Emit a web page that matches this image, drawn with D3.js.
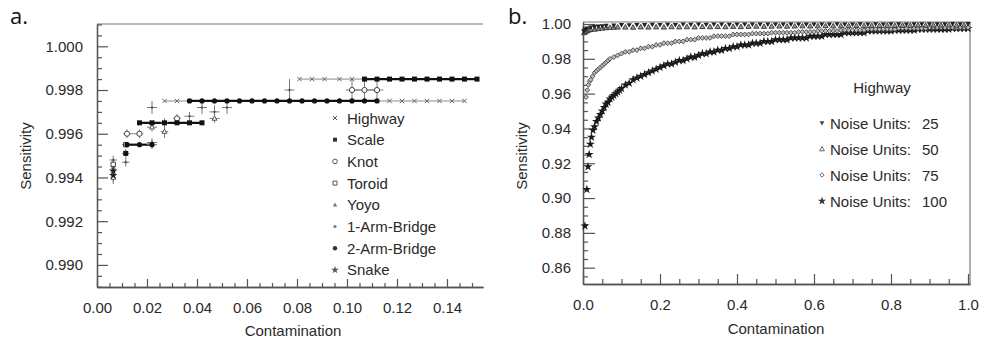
<!DOCTYPE html>
<html><head><meta charset="utf-8">
<script src="https://cdn.jsdelivr.net/npm/d3@7"></script>
<style>body{margin:0;background:#fff}svg{display:block}</style>
</head><body><svg id="c" width="981" height="340"></svg>
<script>
// ---------- data : panel a ----------
const aXTicks = [0.00, 0.02, 0.04, 0.06, 0.08, 0.10, 0.12, 0.14];
const aYTicks = [0.990, 0.992, 0.994, 0.996, 0.998, 1.000];
const aSeriesNames = ["Highway", "Scale", "Knot", "Toroid", "Yoyo", "1-Arm-Bridge", "2-Arm-Bridge", "Snake"];
// [contamination, sensitivity, x error, y error]
const highway = [
  [0.0065,0.9944,0.001,0.0002],
  [0.027,0.9975,0,0],[0.032,0.9975,0,0],[0.037,0.9975,0,0],
  [0.081,0.9985,0,0],[0.086,0.9985,0,0],[0.091,0.9985,0,0],[0.097,0.9985,0,0],[0.102,0.9985,0,0],[0.107,0.9985,0,0],
  [0.112,0.9975,0,0],[0.117,0.9975,0,0],[0.122,0.9975,0,0],[0.127,0.9975,0,0],[0.132,0.9975,0,0],[0.137,0.9975,0,0],[0.142,0.9975,0,0],[0.147,0.9975,0,0]
];
const scale = [
  [0.0115,0.9951,0.0015,0.0002],
  [0.017,0.9965,0,0],[0.022,0.9965,0,0],[0.027,0.9965,0.0015,0.0002],[0.032,0.9965,0,0],[0.037,0.9965,0,0],[0.042,0.9965,0,0],
  [0.107,0.9985,0,0],[0.112,0.9985,0,0],[0.117,0.9985,0,0],[0.122,0.9985,0,0],[0.127,0.9985,0,0],
  [0.132,0.9985,0,0],[0.137,0.9985,0,0],[0.142,0.9985,0,0],[0.147,0.9985,0,0],[0.152,0.9985,0,0]
];
const knot = [
  [0.012,0.9960,0.0015,0.0002],[0.017,0.9960,0.0015,0.0002],
  [0.032,0.9967,0.0015,0.0002],
  [0.102,0.9980,0.0025,0.0005],[0.107,0.9980,0.0025,0.0005],[0.112,0.9980,0.0025,0.0005]
];
const toroid = [
  [0.0065,0.9946,0.001,0.0002],[0.0115,0.9955,0.0015,0.0001]
];
const yoyo = [
  [0.0065,0.9940,0.001,0.0003],[0.022,0.9963,0.002,0.0002],[0.027,0.9961,0.0015,0.0003],[0.047,0.9967,0.002,0.0002]
];
const arm1 = [
  [0.0065,0.9948,0.0015,0.0002],[0.0115,0.9947,0.0015,0.0002],[0.022,0.9956,0.002,0.0002],
  [0.022,0.9972,0.002,0.0003],[0.037,0.9968,0.002,0.0002],[0.042,0.9972,0.002,0.0003],
  [0.047,0.9970,0.002,0.0003],[0.052,0.9972,0.002,0.0003],[0.077,0.9980,0.002,0.0005]
];
const arm2 = [
  [0.012,0.9955,0,0],[0.017,0.9955,0,0],[0.022,0.9955,0.002,0.0002],
  [0.037,0.9975,0,0],[0.042,0.9975,0,0],[0.047,0.9975,0,0],[0.052,0.9975,0,0],[0.057,0.9975,0,0],
  [0.062,0.9975,0,0],[0.067,0.9975,0,0],[0.072,0.9975,0,0],[0.077,0.9975,0,0],[0.082,0.9975,0,0],
  [0.087,0.9975,0,0],[0.092,0.9975,0,0],[0.097,0.9975,0,0],[0.102,0.9975,0,0],[0.107,0.9975,0,0],[0.112,0.9975,0,0]
];
const snake = [
  [0.0065,0.9941,0.001,0.0003],[0.0065,0.9943,0.0012,0.0002]
];

// ---------- data : panel b ----------
const bXTicks = [0.0, 0.2, 0.4, 0.6, 0.8, 1.0];
const bYTicks = [0.86, 0.88, 0.90, 0.92, 0.94, 0.96, 0.98, 1.00];
const bLegendTitle = "Highway";
const noiseUnits = ["25", "50", "75", "100"];
const noise25 = [
  [0.002,0.9958],[0.005,0.9968],[0.01,0.9975],[0.02,0.9980],[0.03,0.9984],[0.04,0.9986],[0.05,0.9988],[0.06,0.9990],[0.08,0.9992],[0.10,0.9994],
  [0.12,0.9993],[0.14,0.9995],[0.16,0.9994],[0.18,0.9996],[0.20,0.9995],[0.22,0.9996],[0.24,0.9995],[0.26,0.9997],[0.28,0.9996],[0.30,0.9997],
  [0.32,0.9996],[0.34,0.9997],[0.36,0.9997],[0.38,0.9996],[0.40,0.9997],[0.42,0.9998],[0.44,0.9997],[0.46,0.9997],[0.48,0.9998],[0.50,0.9997],
  [0.52,0.9998],[0.54,0.9997],[0.56,0.9998],[0.58,0.9998],[0.60,0.9997],[0.62,0.9998],[0.64,0.9998],[0.66,0.9999],[0.68,0.9998],[0.70,0.9998],
  [0.72,0.9999],[0.74,0.9998],[0.76,0.9999],[0.78,0.9998],[0.80,0.9999],[0.82,0.9999],[0.84,0.9998],[0.86,0.9999],[0.88,0.9999],[0.90,0.9999],
  [0.92,0.9999],[0.94,0.9999],[0.96,1.0000],[0.98,0.9999],[1.00,1.0000]
];
const noise50 = [
  [0.003,0.9950],[0.006,0.9955],[0.01,0.9960],[0.015,0.9965],[0.02,0.9968],[0.03,0.9970],[0.04,0.9973],[0.05,0.9976],[0.06,0.9978],[0.07,0.9980],
  [0.08,0.9981],[0.09,0.9982],[0.11,0.9982],[0.13,0.9981],[0.15,0.9983],[0.17,0.9982],[0.19,0.9983],[0.21,0.9982],[0.23,0.9984],[0.25,0.9983],
  [0.27,0.9984],[0.29,0.9983],[0.31,0.9985],[0.33,0.9984],[0.35,0.9985],[0.37,0.9984],[0.39,0.9986],[0.41,0.9985],[0.43,0.9986],[0.45,0.9987],
  [0.47,0.9986],[0.49,0.9987],[0.51,0.9988],[0.53,0.9987],[0.55,0.9988],[0.57,0.9989],[0.59,0.9988],[0.61,0.9989],[0.63,0.9990],[0.65,0.9989],
  [0.67,0.9990],[0.69,0.9990],[0.71,0.9991],[0.73,0.9990],[0.75,0.9991],[0.77,0.9991],[0.79,0.9992],[0.81,0.9991],[0.83,0.9992],[0.85,0.9992],
  [0.87,0.9993],[0.89,0.9992],[0.91,0.9993],[0.93,0.9993],[0.95,0.9994],[0.97,0.9993],[0.99,0.9994]
];
const noise75 = [
  [0.008,0.958],[0.011,0.962],[0.014,0.965],[0.017,0.967],[0.020,0.968],[0.025,0.970],[0.030,0.972],[0.035,0.973],[0.040,0.974],[0.045,0.975],
  [0.050,0.976],[0.055,0.977],[0.060,0.978],[0.065,0.979],[0.070,0.980],[0.080,0.981],[0.090,0.982],[0.10,0.983],[0.11,0.984],[0.12,0.984],
  [0.13,0.985],[0.14,0.985],[0.15,0.986],[0.16,0.986],[0.17,0.987],[0.18,0.987],[0.19,0.988],[0.20,0.988],[0.21,0.989],[0.22,0.989],
  [0.23,0.989],[0.24,0.990],[0.25,0.990],[0.26,0.990],[0.27,0.991],[0.28,0.991],[0.29,0.991],[0.30,0.992],[0.31,0.992],[0.32,0.992],
  [0.33,0.992],[0.34,0.993],[0.35,0.993],[0.36,0.993],[0.37,0.993],[0.38,0.993],[0.39,0.994],[0.40,0.994],[0.41,0.994],[0.42,0.994],
  [0.43,0.994],[0.44,0.9945],[0.45,0.9945],[0.46,0.9945],[0.47,0.9945],[0.48,0.9945],[0.49,0.995],[0.50,0.995],[0.51,0.995],[0.52,0.995],
  [0.53,0.995],[0.54,0.995],[0.55,0.995],[0.56,0.9955],[0.57,0.9955],[0.58,0.9955],[0.59,0.9955],[0.60,0.9955],[0.61,0.996],[0.62,0.996],
  [0.63,0.996],[0.64,0.996],[0.65,0.996],[0.66,0.996],[0.67,0.9965],[0.68,0.9965],[0.69,0.9965],[0.70,0.9965],[0.71,0.9965],[0.72,0.9965],
  [0.73,0.9965],[0.74,0.997],[0.75,0.997],[0.76,0.997],[0.77,0.997],[0.78,0.997],[0.79,0.997],[0.80,0.997],[0.81,0.997],[0.82,0.9975],
  [0.83,0.9975],[0.84,0.9975],[0.85,0.9975],[0.86,0.9975],[0.87,0.9975],[0.88,0.9975],[0.89,0.9975],[0.90,0.998],[0.91,0.998],[0.92,0.998],
  [0.93,0.998],[0.94,0.998],[0.95,0.998],[0.96,0.998],[0.97,0.998],[0.98,0.998],[0.99,0.998],[1.00,0.998]
];
const noise100 = [
  [0.005,0.884],[0.010,0.905],[0.013,0.918],[0.016,0.925],[0.019,0.931],[0.022,0.935],[0.026,0.939],[0.030,0.941],[0.035,0.944],[0.040,0.946],
  [0.045,0.948],[0.050,0.950],[0.055,0.952],[0.060,0.954],[0.065,0.955],[0.070,0.957],[0.075,0.958],[0.080,0.959],[0.085,0.960],[0.090,0.961],
  [0.095,0.962],[0.10,0.963],[0.11,0.965],[0.12,0.966],[0.13,0.968],[0.14,0.969],[0.15,0.970],[0.16,0.971],[0.17,0.972],[0.18,0.973],
  [0.19,0.974],[0.20,0.975],[0.21,0.976],[0.22,0.977],[0.23,0.977],[0.24,0.978],[0.25,0.979],[0.26,0.979],[0.27,0.980],[0.28,0.981],
  [0.29,0.981],[0.30,0.982],[0.31,0.983],[0.32,0.983],[0.33,0.984],[0.34,0.984],[0.35,0.985],[0.36,0.985],[0.37,0.986],[0.38,0.986],
  [0.39,0.987],[0.40,0.987],[0.41,0.988],[0.42,0.988],[0.43,0.988],[0.44,0.989],[0.45,0.989],[0.46,0.989],[0.47,0.990],[0.48,0.990],
  [0.49,0.990],[0.50,0.991],[0.51,0.991],[0.52,0.991],[0.53,0.991],[0.54,0.992],[0.55,0.992],[0.56,0.992],[0.57,0.992],[0.58,0.992],
  [0.59,0.993],[0.60,0.993],[0.61,0.993],[0.62,0.993],[0.63,0.994],[0.64,0.994],[0.65,0.994],[0.66,0.994],[0.67,0.994],[0.68,0.995],
  [0.69,0.995],[0.70,0.995],[0.71,0.995],[0.72,0.995],[0.73,0.995],[0.74,0.996],[0.75,0.996],[0.76,0.996],[0.77,0.996],[0.78,0.996],
  [0.79,0.996],[0.80,0.996],[0.81,0.9965],[0.82,0.9965],[0.83,0.9965],[0.84,0.9965],[0.85,0.9965],[0.86,0.9965],[0.87,0.997],[0.88,0.997],
  [0.89,0.997],[0.90,0.997],[0.91,0.997],[0.92,0.997],[0.93,0.997],[0.94,0.997],[0.95,0.997],[0.96,0.9975],[0.97,0.9975],[0.98,0.9975],
  [0.99,0.9975],[1.00,0.9975]
];

// ---------- drawing ----------
const svg = d3.select("#c");
const FONT = "'Liberation Sans', Arial, Helvetica, sans-serif";
const AXIS = "#555";
const TXT = "#2a2a2a";

function symPath(shape, r) {
  switch (shape) {
    case "x": return `M${-r},${-r}L${r},${r}M${-r},${r}L${r},${-r}`;
    case "plus": return `M${-r},0L${r},0M0,${-r}L0,${r}`;
    case "square": return `M${-r},${-r}h${2*r}v${2*r}h${-2*r}Z`;
    case "circle": return d3.symbol(d3.symbolCircle, Math.PI*r*r)();
    case "triUp": return `M0,${-r}L${r},${r*0.75}L${-r},${r*0.75}Z`;
    case "triDown": return `M0,${r}L${r},${-r*0.75}L${-r},${-r*0.75}Z`;
    case "diamond": return `M0,${-r}L${r},0L0,${r}L${-r},0Z`;
    case "star": return d3.symbol(d3.symbolStar, r*r*3.2)();
  }
}

function styleAxis(g, fs) {
  g.select(".domain").attr("stroke", AXIS).attr("stroke-width", 1.3);
  g.selectAll(".tick line").attr("stroke", AXIS).attr("stroke-width", 1.2);
  g.selectAll(".tick text").attr("fill", TXT).style("font-size", fs + "px").style("font-family", FONT);
}

// ===== Panel a =====
const ax = d3.scaleLinear().domain([0, 0.1544]).range([97, 483]);
const ay = d3.scaleLinear().domain([0.98899, 1.00102]).range([287, 24]);

const aMinorY = d3.range(0.9890, 1.0011, 0.0005).filter(v => !aYTicks.some(t => Math.abs(t - v) < 1e-7));
const aMinorX = d3.range(0, 0.155, 0.005).filter(v => !aXTicks.some(t => Math.abs(t - v) < 1e-7));

svg.append("line").attr("x1", 97).attr("x2", 483).attr("y1", 24).attr("y2", 24)
  .attr("stroke", "#777").attr("stroke-width", 1.2);

svg.append("g").attr("transform", "translate(97,0)")
  .call(d3.axisLeft(ay).tickValues(aMinorY).tickSize(-5).tickSizeOuter(0).tickFormat(""))
  .call(g => styleAxis(g, 15));
svg.append("g").attr("transform", "translate(97,0)")
  .call(d3.axisLeft(ay).tickValues(aYTicks).tickSize(-11).tickSizeOuter(0).tickPadding(14).tickFormat(d3.format(".3f")))
  .call(g => styleAxis(g, 15));
svg.append("g").attr("transform", "translate(0,287)")
  .call(d3.axisBottom(ax).tickValues(aMinorX).tickSize(-4).tickSizeOuter(0).tickFormat(""))
  .call(g => styleAxis(g, 15));
svg.append("g").attr("transform", "translate(0,287)")
  .call(d3.axisBottom(ax).tickValues(aXTicks).tickSize(-8).tickSizeOuter(0).tickPadding(15).tickFormat(d3.format(".2f")))
  .call(g => styleAxis(g, 15));

const aSeries = [
  {data: highway, shape: "x", r: 2.2, fill: "none", stroke: "#666", line: "#8a8a8a", lw: 1},
  {data: knot, shape: "circle", r: 2.6, fill: "#fff", stroke: "#444", line: "#8a8a8a", lw: 1},
  {data: toroid, shape: "square", r: 2.2, fill: "#fff", stroke: "#444", line: "#8a8a8a", lw: 1},
  {data: yoyo, shape: "triUp", r: 2.4, fill: "#fff", stroke: "#555", line: "#8a8a8a", lw: 1},
  {data: arm1, shape: "plus", r: 1.6, fill: "none", stroke: "#555", line: "#8a8a8a", lw: 1},
  {data: snake, shape: "star", r: 2.6, fill: "#222", stroke: "none", line: "#8a8a8a", lw: 1},
  {data: arm2, shape: "circle", r: 2.6, fill: "#111", stroke: "none", line: "#111", lw: 2.2},
  {data: scale, shape: "square", r: 2.5, fill: "#111", stroke: "none", line: "#111", lw: 2.2}
];
const legendOrder = [
  {shape: "x", r: 2, fill: "none", stroke: "#555"},
  {shape: "square", r: 2, fill: "#333", stroke: "none"},
  {shape: "circle", r: 2.3, fill: "#fff", stroke: "#555"},
  {shape: "square", r: 2, fill: "#fff", stroke: "#555"},
  {shape: "triUp", r: 2.2, fill: "#777", stroke: "none"},
  {shape: "circle", r: 1.6, fill: "#777", stroke: "none"},
  {shape: "circle", r: 2.2, fill: "#333", stroke: "none"},
  {shape: "star", r: 2.4, fill: "#555", stroke: "none"}
];

// lines: connect consecutive points at the same sensitivity
function runs(data) {
  const out = []; let cur = [];
  data.forEach((d, i) => {
    if (i > 0 && d[1] !== data[i-1][1]) { out.push(cur); cur = []; }
    cur.push(d);
  });
  out.push(cur);
  return out.filter(r => r.length > 1);
}
const aLine = d3.line().x(d => ax(d[0])).y(d => ay(d[1]));
const gLines = svg.append("g");
aSeries.forEach(s => {
  runs(s.data).forEach(r => gLines.append("path").attr("d", aLine(r))
    .attr("fill", "none").attr("stroke", s.line).attr("stroke-width", s.lw));
});
// error bars
const gErr = svg.append("g").attr("stroke", "#7a7a7a").attr("stroke-width", 1);
aSeries.forEach(s => {
  s.data.filter(d => d[2] > 0 || d[3] > 0).forEach(d => {
    gErr.append("line").attr("x1", ax(d[0]-d[2])).attr("x2", ax(d[0]+d[2])).attr("y1", ay(d[1])).attr("y2", ay(d[1]));
    gErr.append("line").attr("x1", ax(d[0])).attr("x2", ax(d[0])).attr("y1", ay(d[1]-d[3])).attr("y2", ay(d[1]+d[3]));
  });
});
// markers
aSeries.forEach(s => {
  svg.append("g").selectAll("path").data(s.data).join("path")
    .attr("transform", d => `translate(${ax(d[0])},${ay(d[1])})`)
    .attr("d", symPath(s.shape, s.r))
    .attr("fill", s.fill).attr("stroke", s.stroke).attr("stroke-width", 1);
});
// legend a
const legA = svg.append("g");
aSeriesNames.forEach((name, i) => {
  const y = 118 + i * 21.7;
  const m = legendOrder[i];
  legA.append("path").attr("transform", `translate(335,${y})`).attr("d", symPath(m.shape, m.r))
    .attr("fill", m.fill).attr("stroke", m.stroke).attr("stroke-width", 1);
  legA.append("text").attr("x", 347).attr("y", y + 5.5).text(name)
    .attr("fill", TXT).style("font-size", "15px").style("font-family", FONT);
});
svg.append("text").attr("x", 293).attr("y", 336).attr("text-anchor", "middle").text("Contamination")
  .attr("fill", TXT).style("font-size", "15px").style("font-family", FONT);
svg.append("text").attr("transform", "translate(31,156) rotate(-90)").attr("text-anchor", "middle").text("Sensitivity")
  .attr("fill", TXT).style("font-size", "15px").style("font-family", FONT);
svg.append("text").attr("x", 10).attr("y", 24).text("a.")
  .attr("fill", "#111").style("font-size", "22px").style("font-family", "'Open Sans', 'Noto Sans', sans-serif");

// ===== Panel b =====
const bx = d3.scaleLinear().domain([0, 1.0052]).range([583, 970]);
const by = d3.scaleLinear().domain([0.85063, 1.00115]).range([284, 22]);
const bMinorY = d3.range(0.855, 1.0011, 0.005).filter(v => !bYTicks.some(t => Math.abs(t - v) < 1e-7));
const bMinorX = d3.range(0, 1.001, 0.05).filter(v => !bXTicks.some(t => Math.abs(t - v) < 1e-7));

svg.append("path").attr("d", "M583,22H970V284").attr("fill", "none").attr("stroke", "#777").attr("stroke-width", 1.2);
svg.append("g").attr("transform", "translate(583,0)")
  .call(d3.axisLeft(by).tickValues(bMinorY).tickSize(-5).tickSizeOuter(0).tickFormat(""))
  .call(g => styleAxis(g, 15));
svg.append("g").attr("transform", "translate(583,0)")
  .call(d3.axisLeft(by).tickValues(bYTicks).tickSize(-12).tickSizeOuter(0).tickPadding(12).tickFormat(d3.format(".2f")))
  .call(g => styleAxis(g, 15));
svg.append("g").attr("transform", "translate(0,284)")
  .call(d3.axisBottom(bx).tickValues(bMinorX).tickSize(-5).tickSizeOuter(0).tickFormat(""))
  .call(g => styleAxis(g, 15));
svg.append("g").attr("transform", "translate(0,284)")
  .call(d3.axisBottom(bx).tickValues(bXTicks).tickSize(-10).tickSizeOuter(0).tickPadding(15).tickFormat(d3.format(".1f")))
  .call(g => styleAxis(g, 15));

const bSeries = [
  {data: noise100, shape: "star", r: 2.8, fill: "#1a1a1a", stroke: "none"},
  {data: noise75, shape: "diamond", r: 2.4, fill: "#bbb", stroke: "#444"},
  {data: noise50, shape: "triUp", r: 2.6, fill: "#999", stroke: "#333"},
  {data: noise25, shape: "triDown", r: 2.6, fill: "#222", stroke: "none"}
];
bSeries.forEach(s => {
  svg.append("g").selectAll("path").data(s.data).join("path")
    .attr("transform", d => `translate(${bx(d[0])},${by(d[1])})`)
    .attr("d", symPath(s.shape, s.r))
    .attr("fill", s.fill).attr("stroke", s.stroke).attr("stroke-width", 0.9);
});
// legend b
svg.append("text").attr("x", 882).attr("y", 93).attr("text-anchor", "middle").text(bLegendTitle)
  .attr("fill", TXT).style("font-size", "15px").style("font-family", FONT);
const bLegShapes = [
  {shape: "triDown", r: 2.4, fill: "#444", stroke: "none"},
  {shape: "triUp", r: 2.4, fill: "#fff", stroke: "#555"},
  {shape: "diamond", r: 2.2, fill: "#fff", stroke: "#555"},
  {shape: "star", r: 2.6, fill: "#333", stroke: "none"}
];
noiseUnits.forEach((u, i) => {
  const y = 123 + i * 26;
  const m = bLegShapes[i];
  svg.append("path").attr("transform", `translate(822,${y})`).attr("d", symPath(m.shape, m.r))
    .attr("fill", m.fill).attr("stroke", m.stroke).attr("stroke-width", 0.9);
  svg.append("text").attr("x", 830).attr("y", y + 5.5).text("Noise Units:")
    .attr("fill", TXT).style("font-size", "15px").style("font-family", FONT);
  svg.append("text").attr("x", 922).attr("y", y + 5.5).text(u)
    .attr("fill", TXT).style("font-size", "15px").style("font-family", FONT);
});
svg.append("text").attr("x", 776).attr("y", 334).attr("text-anchor", "middle").text("Contamination")
  .attr("fill", TXT).style("font-size", "15px").style("font-family", FONT);
svg.append("text").attr("transform", "translate(527,156) rotate(-90)").attr("text-anchor", "middle").text("Sensitivity")
  .attr("fill", TXT).style("font-size", "15px").style("font-family", FONT);
svg.append("text").attr("x", 508).attr("y", 24).text("b.")
  .attr("fill", "#111").style("font-size", "22px").style("font-family", "'Open Sans', 'Noto Sans', sans-serif");
</script>
</body></html>
